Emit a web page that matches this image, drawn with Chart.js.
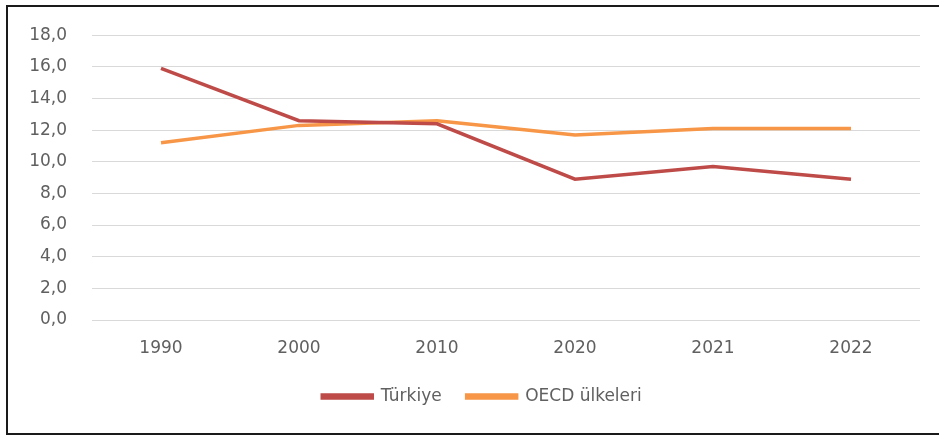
<!DOCTYPE html>
<html><head><meta charset="utf-8">
<script src="https://cdn.jsdelivr.net/npm/chart.js@4/dist/chart.umd.min.js"></script>
<style>
html,body{margin:0;padding:0;background:#fff;overflow:hidden;}
#frame{position:absolute;left:6px;top:5px;width:960px;height:426px;border:2px solid #1a1a1a;border-right:none;}
#wrap{position:absolute;left:0;top:0;width:939px;height:435px;}
</style></head>
<body>
<div id="frame"></div>
<div id="wrap"><canvas id="c" width="939" height="435"></canvas></div>
<script>
const categories = ['1990','2000','2010','2020','2021','2022'];
const turkiye = [15.9, 12.6, 12.4, 8.9, 9.7, 8.9];
const oecd = [11.2, 12.3, 12.6, 11.7, 12.1, 12.1];
const seriesNames = ['Türkiye', 'OECD ülkeleri'];

const FONT = 'DejaVu Sans';
const FS = 17;
const TXT = '#606060';
const chart = new Chart(document.getElementById('c'), {
  type: 'line',
  data: {
    labels: categories,
    datasets: [
      {label: seriesNames[0], data: turkiye, borderColor: '#be4b48', backgroundColor: '#be4b48', borderWidth: 3.5, pointRadius: 0, tension: 0},
      {label: seriesNames[1], data: oecd, borderColor: '#f79646', backgroundColor: '#f79646', borderWidth: 3.5, pointRadius: 0, tension: 0}
    ]
  },
  options: {
    responsive: false,
    animation: false,
    layout: {padding: {left: 10, right: 19, top: 21, bottom: 20}},
    plugins: {
      tooltip: {enabled: false},
      legend: {
        position: 'bottom',
        labels: {boxWidth: 50, boxHeight: 3, color: TXT, font: {family: FONT, size: FS}, padding: 25}
      }
    },
    scales: {
      x: {
        offset: true,
        grid: {display: false},
        border: {display: false},
        ticks: {color: TXT, font: {family: FONT, size: FS}, padding: 10},
        afterFit: s => { s.height = 43; }
      },
      y: {
        min: 0, max: 18,
        grid: {color: '#d9d9d9', drawTicks: false},
        border: {display: false},
        ticks: {stepSize: 2, color: TXT, font: {family: FONT, size: FS}, padding: 25,
          callback: v => v.toFixed(1).replace('.', ',')},
        afterFit: s => { s.width = 82; }
      }
    }
  }
});
// shift the legend to the right like the reference
const lg = chart.legend;
const origDraw = lg.draw.bind(lg);
lg.draw = function(area) {
  const ctx = chart.ctx;
  ctx.save();
  ctx.translate(17, 0);
  origDraw(area);
  ctx.restore();
};
chart.draw();
</script>
</body></html>
